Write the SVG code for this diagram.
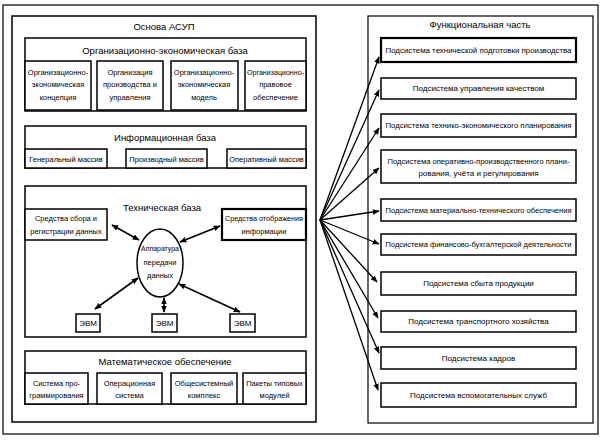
<svg xmlns="http://www.w3.org/2000/svg" width="603" height="441" viewBox="0 0 603 441">
<defs>
<marker id="ah" viewBox="0 0 10 10" refX="9" refY="5" markerWidth="7" markerHeight="7" markerUnits="userSpaceOnUse" orient="auto-start-reverse">
<path d="M0,1 L10,5 L0,9 z" fill="#000"/>
</marker>
<style>
.fr{fill:#fff;stroke:#000;stroke-width:1.5}
.fn{fill:none;stroke:#000;stroke-width:1.2}
.b{fill:#fff;stroke:#000;stroke-width:1.5}
.bt{fill:#fff;stroke:#000;stroke-width:2.2}
.t{font-family:"Liberation Sans",Arial,sans-serif;font-size:8px;fill:#000;text-anchor:middle}
.s{font-family:"Liberation Sans",Arial,sans-serif;font-size:7.5px;fill:#000;text-anchor:middle}
.h{font-family:"Liberation Sans",Arial,sans-serif;font-size:9.5px;fill:#000;text-anchor:middle}
.c{stroke:#000;stroke-width:1.3;fill:none;marker-end:url(#ah)}
.c2{stroke:#000;stroke-width:1.6;fill:none;marker-end:url(#ah);marker-start:url(#ah)}
</style>
</defs>
<rect x="0" y="0" width="603" height="441" fill="#fff"/>
<rect id="outer" x="3" y="5" width="595" height="429" class="fn"/>

<g id="left-panel">
<rect x="12" y="16" width="304" height="406" class="fr"/>
<text x="164" y="30" class="h">Основа АСУП</text>
</g>

<g id="org-base">
<rect x="25" y="38" width="281" height="73" class="b"/>
<text x="165" y="54" class="h">Организационно-экономическая база</text>
</g>
<g id="org1"><rect x="25" y="61" width="66" height="49" class="b"/>
<text x="58" y="75" class="s">Организационно-</text><text x="58" y="87" class="s">экономическая</text><text x="58" y="100" class="s">концепция</text></g>
<g id="org2"><rect x="97" y="61" width="66" height="49" class="b"/>
<text x="130" y="75" class="s">Организация</text><text x="130" y="87" class="s">производства и</text><text x="130" y="100" class="s">управления</text></g>
<g id="org3"><rect x="171" y="61" width="67" height="49" class="b"/>
<text x="204" y="75" class="s">Организационно-</text><text x="204" y="87" class="s">экономическая</text><text x="204" y="100" class="s">модель</text></g>
<g id="org4"><rect x="245" y="61" width="61" height="49" class="b"/>
<text x="275.5" y="75" class="s" textLength="57" lengthAdjust="spacingAndGlyphs">Организационно-</text><text x="275.5" y="87" class="s">правовое</text><text x="275.5" y="100" class="s">обеспечение</text></g>

<g id="info-base">
<rect x="25" y="126" width="281" height="42" class="b"/>
<text x="165" y="141" class="h">Информационная база</text>
</g>
<g id="info1"><rect x="25" y="149" width="82" height="19" class="b"/><text x="66" y="161.5" class="s">Генеральный массив</text></g>
<g id="info2"><rect x="126" y="149" width="81" height="19" class="b"/><text x="166.5" y="161.5" class="s">Производный массив</text></g>
<g id="info3"><rect x="227" y="149" width="79" height="19" class="b"/><text x="266.5" y="161.5" class="s">Оперативный массив</text></g>

<g id="tech-base">
<rect x="25" y="186" width="281" height="151" class="b"/>
<text x="162" y="211" class="h">Техническая база</text>
</g>
<g id="tech-collect"><rect x="25" y="209" width="82" height="31" class="b"/>
<text x="66" y="221" class="s">Средства сбора и</text><text x="66" y="234" class="s">регистрации данных</text></g>
<g id="tech-display"><rect x="222" y="209" width="84" height="31" class="bt"/>
<text x="264" y="221" class="s" textLength="78" lengthAdjust="spacingAndGlyphs">Средства отображения</text><text x="264" y="234" class="s">информации</text></g>
<g id="tech-apparatus"><ellipse cx="160" cy="263" rx="23" ry="34" class="b"/>
<text x="160" y="251" class="s" textLength="38" lengthAdjust="spacingAndGlyphs">Аппаратура</text><text x="160" y="265" class="s">передачи</text><text x="160" y="278" class="s">данных</text></g>
<g id="evm1"><rect x="76" y="314" width="24" height="18" class="b"/><text x="88" y="326" class="t">ЭВМ</text></g>
<g id="evm2"><rect x="152" y="314" width="25" height="18" class="b"/><text x="164.5" y="326" class="t">ЭВМ</text></g>
<g id="evm3"><rect x="230" y="314" width="25" height="18" class="b"/><text x="242.5" y="326" class="t">ЭВМ</text></g>

<g id="math">
<rect x="25" y="351" width="281" height="53" class="b"/>
<text x="165" y="365" class="h">Математическое обеспечение</text>
</g>
<g id="math1"><rect x="25" y="373" width="63" height="31" class="b"/>
<text x="56.5" y="386" class="s">Система про-</text><text x="56.5" y="398" class="s">граммирования</text></g>
<g id="math2"><rect x="97" y="373" width="65" height="31" class="b"/>
<text x="129.5" y="386" class="s">Операционная</text><text x="129.5" y="398" class="s">система</text></g>
<g id="math3"><rect x="171" y="373" width="66" height="31" class="b"/>
<text x="204" y="386" class="s">Общесистемный</text><text x="204" y="398" class="s">комплекс</text></g>
<g id="math4"><rect x="243" y="373" width="63" height="31" class="b"/>
<text x="274.5" y="386" class="s">Пакеты типовых</text><text x="274.5" y="398" class="s">модулей</text></g>

<g id="right-panel">
<rect x="368" y="16" width="225" height="407" class="fn"/>
<text x="480" y="28" class="h">Функциональная часть</text>
</g>
<g id="f1"><rect x="381" y="38" width="195" height="24" class="bt"/><text x="478.5" y="53" class="t" textLength="186" lengthAdjust="spacingAndGlyphs">Подсистема технической подготовки производства</text></g>
<g id="f2"><rect x="381" y="78" width="195" height="21" class="b"/><text x="478.5" y="91" class="t">Подсистема управления качеством</text></g>
<g id="f3"><rect x="381" y="114" width="195" height="23" class="b"/><text x="478.5" y="128" class="t" textLength="186" lengthAdjust="spacingAndGlyphs">Подсистема технико-экономического планирования</text></g>
<g id="f4"><rect x="381" y="150" width="195" height="33" class="b"/><text x="478.5" y="164" class="t" textLength="182" lengthAdjust="spacingAndGlyphs">Подсистема оперативно-производственного плани-</text><text x="478.5" y="176" class="t">рования, учёта и регулирования</text></g>
<g id="f5"><rect x="381" y="199" width="195" height="22" class="b"/><text x="478.5" y="213" class="t" textLength="186" lengthAdjust="spacingAndGlyphs">Подсистема материально-технического обеспечения</text></g>
<g id="f6"><rect x="381" y="234" width="195" height="21" class="b"/><text x="478.5" y="247" class="t" textLength="186" lengthAdjust="spacingAndGlyphs">Подсистема финансово-бухгалтерской деятельности</text></g>
<g id="f7"><rect x="381" y="272" width="195" height="23" class="b"/><text x="478.5" y="286" class="t">Подсистема сбыта продукции</text></g>
<g id="f8"><rect x="381" y="311" width="195" height="21" class="b"/><text x="478.5" y="324" class="t">Подсистема транспортного хозяйства</text></g>
<g id="f9"><rect x="381" y="347" width="195" height="22" class="b"/><text x="478.5" y="361" class="t">Подсистема кадров</text></g>
<g id="f10"><rect x="381" y="383" width="195" height="24" class="b"/><text x="478.5" y="398" class="t">Подсистема вспомогательных служб</text></g>

<g id="connectors">
<line x1="112" y1="225" x2="139" y2="240" class="c2"/>
<line x1="220" y1="226" x2="180" y2="242" class="c2"/>
<line x1="138" y1="278" x2="95" y2="309" class="c2"/>
<line x1="164" y1="298" x2="164" y2="312" class="c2"/>
<line x1="179" y1="284" x2="240" y2="312" class="c2"/>
<line x1="320" y1="220" x2="379" y2="57" class="c"/>
<line x1="320" y1="220" x2="379" y2="90" class="c"/>
<line x1="320" y1="220" x2="379" y2="128" class="c"/>
<line x1="320" y1="220" x2="379" y2="168" class="c"/>
<line x1="320" y1="220" x2="379" y2="211" class="c"/>
<line x1="320" y1="220" x2="379" y2="244" class="c"/>
<line x1="320" y1="220" x2="377" y2="282" class="c"/>
<line x1="320" y1="220" x2="378" y2="318" class="c"/>
<line x1="320" y1="220" x2="379" y2="353" class="c"/>
<line x1="320" y1="220" x2="378" y2="390" class="c"/>
</g>
</svg>
